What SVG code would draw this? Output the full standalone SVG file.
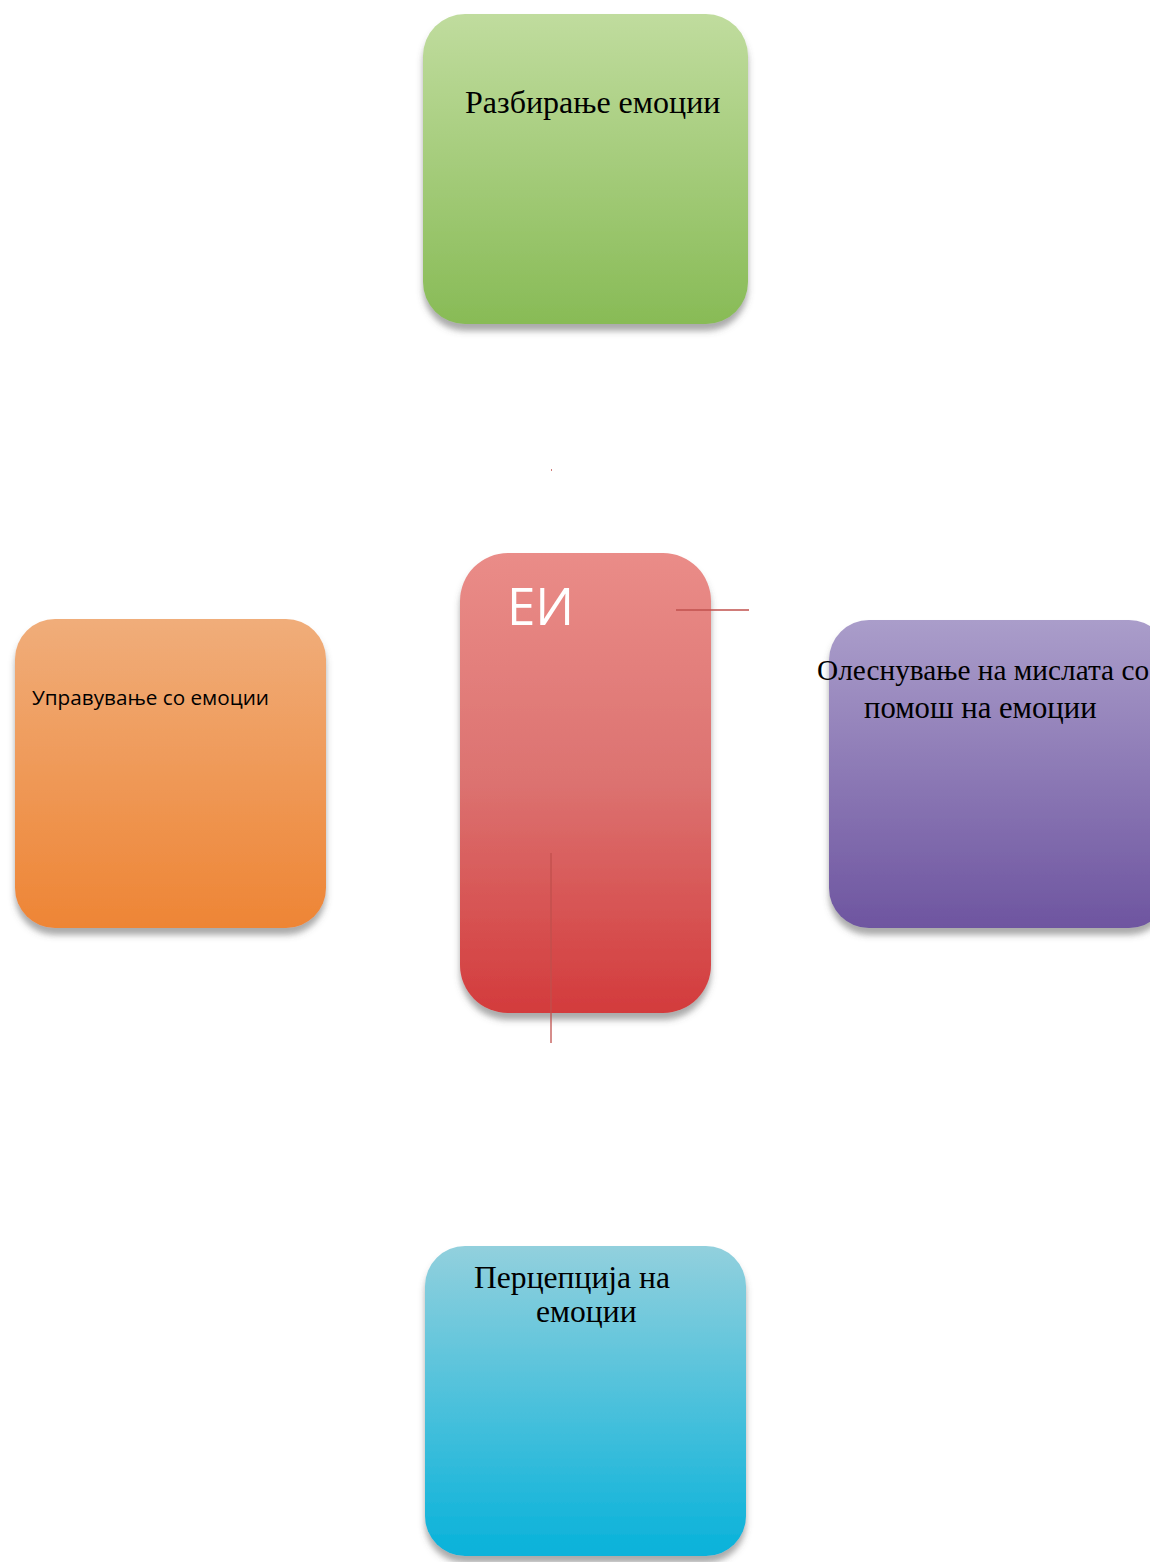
<svg xmlns="http://www.w3.org/2000/svg" width="1150" height="1562" viewBox="0 0 1150 1562">
<defs>
<linearGradient id="gGreen" x1="0" y1="0" x2="0" y2="1"><stop offset="0" stop-color="#c0dc9e"/><stop offset="1" stop-color="#88bb56"/></linearGradient>
<linearGradient id="gRed" x1="0" y1="0" x2="0" y2="1"><stop offset="0" stop-color="#ea8c88"/><stop offset="0.5" stop-color="#dc7270"/><stop offset="1" stop-color="#d33b3c"/></linearGradient>
<linearGradient id="gPurple" x1="0" y1="0" x2="0" y2="1"><stop offset="0" stop-color="#aa9dca"/><stop offset="1" stop-color="#6e55a0"/></linearGradient>
<linearGradient id="gOrange" x1="0" y1="0" x2="0" y2="1"><stop offset="0" stop-color="#f0ad7a"/><stop offset="1" stop-color="#ee8535"/></linearGradient>
<linearGradient id="gBlue" x1="0" y1="0" x2="0" y2="1"><stop offset="0" stop-color="#92d0dd"/><stop offset="1" stop-color="#08b2da"/></linearGradient>
<filter id="shadow" x="-10%" y="-10%" width="120%" height="125%">
<feDropShadow dx="0" dy="7" stdDeviation="3" flood-color="#555" flood-opacity="0.5"/>
</filter>
</defs>
<style>
.box{filter:url(#shadow);}
.serif{font-family:"Liberation Serif","Times New Roman",serif;fill:#000;}
.sans{font-family:"Open Sans","Liberation Sans",sans-serif;}
.conn{stroke:#c0504d;stroke-width:1.3;fill:none;}
</style>
<g id="node-understanding">
<rect class="box" x="423" y="14" width="325" height="310" rx="42" fill="url(#gGreen)"/>
<text class="serif" x="465" y="113" font-size="32">Разбирање емоции</text>
</g>
<g id="node-ei">
<rect class="box" x="460" y="553" width="251" height="460" rx="48" fill="url(#gRed)"/>
<text class="sans" x="507" y="625" font-size="51" fill="#fff">ЕИ</text>
</g>
<g id="node-managing">
<rect class="box" x="15" y="619" width="311" height="309" rx="40" fill="url(#gOrange)"/>
<text class="sans" x="32" y="705" font-size="20.7" fill="#000">Управување со емоции</text>
</g>
<g id="node-facilitation">
<rect class="box" x="829" y="620" width="340" height="308" rx="40" fill="url(#gPurple)"/>
<text class="serif" x="817" y="680" font-size="29.3">Олеснување на мислата со</text>
<text class="serif" x="864" y="718" font-size="30.7">помош на емоции</text>
</g>
<g id="node-perception">
<rect class="box" x="425" y="1246" width="321" height="310" rx="40" fill="url(#gBlue)"/>
<text class="serif" x="474" y="1288" font-size="31.6">Перцепција на</text>
<text class="serif" x="536" y="1322" font-size="31.6">емоции</text>
</g>
<g id="connectors">
<line class="conn" x1="676" y1="610" x2="749" y2="610"/>
<line class="conn" x1="551" y1="853" x2="551" y2="1043"/>
<line class="conn" x1="551" y1="470" x2="552" y2="470"/>
</g>
</svg>
